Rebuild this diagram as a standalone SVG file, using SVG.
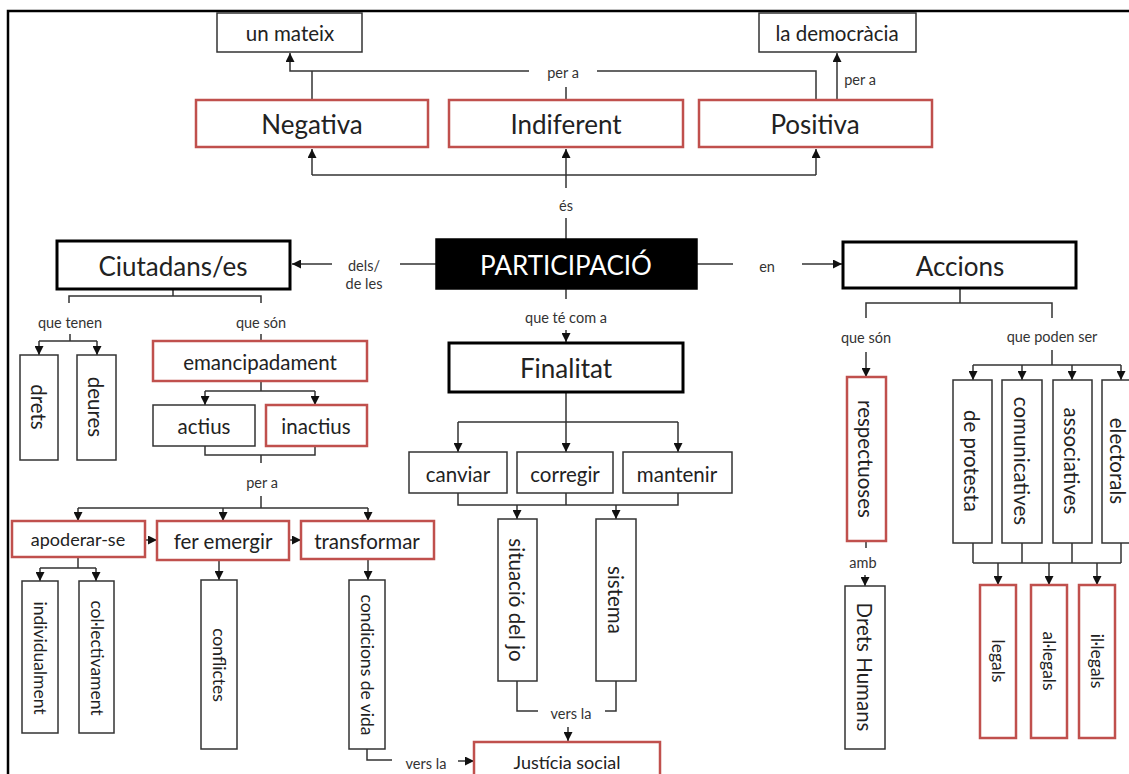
<svg xmlns="http://www.w3.org/2000/svg" width="1129" height="774" viewBox="0 0 1129 774">
<defs>
<style>
.b{fill:#fff;stroke:#333;stroke-width:1.5}
.r{fill:#fff;stroke:#c0504d;stroke-width:2.5}
.k{fill:#fff;stroke:#000;stroke-width:3}
.c{fill:none;stroke:#333;stroke-width:1.5}
text{font-family:Lato,"Open Sans",sans-serif;fill:#222;text-anchor:middle;dominant-baseline:central}
.t1{font-size:26px}
.t2{font-size:20.5px}
.t3{font-size:18px}
.t4{font-size:17.5px}
.lb{font-size:14.5px;fill:#333}
</style>
<marker id="a" viewBox="0 0 10 10" refX="10" refY="5" markerWidth="9" markerHeight="9" markerUnits="userSpaceOnUse" orient="auto"><path d="M0,0L10,5L0,10z" fill="#111"/></marker>
</defs>
<rect x="0" y="0" width="1129" height="774" fill="#fff"/>
<path d="M8,774V11H1129" fill="none" stroke="#000" stroke-width="2.5"/>

<g id="connectors">
<path class="c" d="M529,71H290V53" marker-end="url(#a)"/>
<path class="c" d="M312,100V71"/>
<path class="c" d="M597,71H816V100"/>
<path class="c" d="M566,87V100"/>
<path class="c" d="M837,100V53" marker-end="url(#a)"/>
<path class="c" d="M312,175H816"/>
<path class="c" d="M312,175V149" marker-end="url(#a)"/>
<path class="c" d="M816,175V149" marker-end="url(#a)"/>
<path class="c" d="M566,188V149" marker-end="url(#a)"/>
<path class="c" d="M566,218V239"/>
<path class="c" d="M436,264H400"/>
<path class="c" d="M332,264H292" marker-end="url(#a)"/>
<path class="c" d="M697,264H733"/>
<path class="c" d="M802,264H842" marker-end="url(#a)"/>
<path class="c" d="M566,289V299"/>
<path class="c" d="M566,330V342" marker-end="url(#a)"/>
<path class="c" d="M566,392V422M458,422H678"/>
<path class="c" d="M458,422V452" marker-end="url(#a)"/>
<path class="c" d="M566,422V452" marker-end="url(#a)"/>
<path class="c" d="M678,422V452" marker-end="url(#a)"/>
<path class="c" d="M458,493V505H678V493M566,493V505"/>
<path class="c" d="M517,505V519" marker-end="url(#a)"/>
<path class="c" d="M616,505V519" marker-end="url(#a)"/>
<path class="c" d="M517,681V711H538M605,711H616V681"/>
<path class="c" d="M568,727V741" marker-end="url(#a)"/>
<path class="c" d="M173,289V296M69,303V296H261V303"/>
<path class="c" d="M70,334V341M39,341H97"/>
<path class="c" d="M39,341V355" marker-end="url(#a)"/>
<path class="c" d="M97,341V355" marker-end="url(#a)"/>
<path class="c" d="M261,334V341"/>
<path class="c" d="M261,381V391M205,391H315"/>
<path class="c" d="M205,391V405" marker-end="url(#a)"/>
<path class="c" d="M315,391V405" marker-end="url(#a)"/>
<path class="c" d="M205,446V455H315V446M261,455V463"/>
<path class="c" d="M261,496V508M78,508H368"/>
<path class="c" d="M78,508V521" marker-end="url(#a)"/>
<path class="c" d="M223,508V521" marker-end="url(#a)"/>
<path class="c" d="M368,508V521" marker-end="url(#a)"/>
<path class="c" d="M145,540H157" marker-end="url(#a)"/>
<path class="c" d="M289,540H301" marker-end="url(#a)"/>
<path class="c" d="M78,557V568M40,568H96"/>
<path class="c" d="M40,568V581" marker-end="url(#a)"/>
<path class="c" d="M96,568V581" marker-end="url(#a)"/>
<path class="c" d="M219,560V580" marker-end="url(#a)"/>
<path class="c" d="M368,559V580" marker-end="url(#a)"/>
<path class="c" d="M367,749V760H392"/>
<path class="c" d="M458,761H474" marker-end="url(#a)"/>
<path class="c" d="M960,288V303M866,318V303H1052V318"/>
<path class="c" d="M866,352V377" marker-end="url(#a)"/>
<path class="c" d="M1052,350V365M973,365H1121"/>
<path class="c" d="M973,365V380" marker-end="url(#a)"/>
<path class="c" d="M1022,365V380" marker-end="url(#a)"/>
<path class="c" d="M1072,365V380" marker-end="url(#a)"/>
<path class="c" d="M1121,365V380" marker-end="url(#a)"/>
<path class="c" d="M866,541V548"/>
<path class="c" d="M865,575V586" marker-end="url(#a)"/>
<path class="c" d="M973,543V563M1022,543V563M1072,543V563M1121,543V563M973,563H1121"/>
<path class="c" d="M998,563V585" marker-end="url(#a)"/>
<path class="c" d="M1049,563V585" marker-end="url(#a)"/>
<path class="c" d="M1097,563V585" marker-end="url(#a)"/>
</g>

<g id="labels">
<text class="lb" x="563" y="72">per a</text>
<text class="lb" x="860" y="79">per a</text>
<text class="lb" x="566" y="205">és</text>
<text class="lb" x="364" y="265">dels/</text>
<text class="lb" x="364" y="283">de les</text>
<text class="lb" x="767" y="266">en</text>
<text class="lb" x="566" y="317">que té com a</text>
<text class="lb" x="70" y="322">que tenen</text>
<text class="lb" x="261" y="322">que són</text>
<text class="lb" x="262" y="482">per a</text>
<text class="lb" x="426" y="763">vers la</text>
<text class="lb" x="571" y="713">vers la</text>
<text class="lb" x="866" y="337">que són</text>
<text class="lb" x="1052" y="336">que poden ser</text>
<text class="lb" x="863" y="562">amb</text>
</g>

<g id="un-mateix"><rect class="b" x="217" y="13" width="145" height="39"/><text class="t2" x="290" y="33">un mateix</text></g>
<g id="la-democracia"><rect class="b" x="759" y="13" width="157" height="39"/><text class="t2" x="837" y="33">la democràcia</text></g>
<g id="negativa"><rect class="r" x="196" y="100" width="232" height="47"/><text class="t1" x="312" y="124">Negativa</text></g>
<g id="indiferent"><rect class="r" x="449" y="100" width="234" height="47"/><text class="t1" x="566" y="124">Indiferent</text></g>
<g id="positiva"><rect class="r" x="699" y="100" width="233" height="47"/><text class="t1" x="815" y="124">Positiva</text></g>
<g id="participacio"><rect x="436" y="239" width="261" height="50" fill="#000" stroke="#000" stroke-width="1.5"/><text class="t1" x="566" y="265" style="fill:#fff">PARTICIPACIÓ</text></g>
<g id="ciutadans"><rect class="k" x="57" y="241" width="233" height="48"/><text class="t1" x="173" y="266">Ciutadans/es</text></g>
<g id="accions"><rect class="k" x="843" y="242" width="233" height="46"/><text class="t1" x="960" y="266">Accions</text></g>
<g id="finalitat"><rect class="k" x="449" y="343" width="234" height="49"/><text class="t1" x="566" y="368">Finalitat</text></g>

<g id="drets"><rect class="b" x="20" y="355" width="38" height="105"/><text class="t2" transform="translate(39,407) rotate(90)">drets</text></g>
<g id="deures"><rect class="b" x="77" y="355" width="39" height="105"/><text class="t2" transform="translate(96,407) rotate(90)">deures</text></g>
<g id="emancipadament"><rect class="r" x="153" y="341" width="214" height="40"/><text class="t2" x="260" y="362">emancipadament</text></g>
<g id="actius"><rect class="b" x="153" y="405" width="102" height="41"/><text class="t2" x="204" y="426">actius</text></g>
<g id="inactius"><rect class="r" x="266" y="405" width="101" height="41"/><text class="t2" x="316" y="426">inactius</text></g>
<g id="apoderar-se"><rect class="r" x="12" y="521" width="133" height="36"/><text class="t3" x="78" y="539">apoderar-se</text></g>
<g id="fer-emergir"><rect class="r" x="157" y="521" width="132" height="39"/><text class="t2" x="223" y="541">fer emergir</text></g>
<g id="transformar"><rect class="r" x="301" y="521" width="133" height="38"/><text class="t2" x="367" y="541">transformar</text></g>
<g id="individualment"><rect class="b" x="22" y="581" width="36" height="152"/><text class="t4" transform="translate(40,658) rotate(90)">individualment</text></g>
<g id="collectivament"><rect class="b" x="79" y="581" width="35" height="152"/><text class="t4" transform="translate(97,658) rotate(90)">col·lectivament</text></g>
<g id="conflictes"><rect class="b" x="201" y="580" width="36" height="169"/><text class="t4" transform="translate(219,665) rotate(90)">conflictes</text></g>
<g id="condicions"><rect class="b" x="349" y="580" width="36" height="169"/><text class="t4" transform="translate(367,665) rotate(90)">condicions de vida</text></g>

<g id="canviar"><rect class="b" x="409" y="452" width="98" height="41"/><text class="t2" x="458" y="474">canviar</text></g>
<g id="corregir"><rect class="b" x="517" y="452" width="96" height="41"/><text class="t2" x="565" y="474">corregir</text></g>
<g id="mantenir"><rect class="b" x="623" y="452" width="109" height="41"/><text class="t2" x="677" y="474">mantenir</text></g>
<g id="situacio"><rect class="b" x="498" y="519" width="39" height="162"/><text class="t2" transform="translate(517,600) rotate(90)">situació del jo</text></g>
<g id="sistema"><rect class="b" x="596" y="519" width="40" height="162"/><text class="t2" transform="translate(616,600) rotate(90)">sistema</text></g>
<g id="justicia"><rect class="r" x="474" y="742" width="186" height="48"/><text class="t3" x="567" y="762">Justícia social</text></g>

<g id="respectuoses"><rect class="r" x="847" y="377" width="39" height="164"/><text class="t2" transform="translate(866,459) rotate(90)">respectuoses</text></g>
<g id="drets-humans"><rect class="b" x="845" y="586" width="40" height="163"/><text class="t2" transform="translate(865,667) rotate(90)">Drets Humans</text></g>
<g id="de-protesta"><rect class="b" x="953" y="380" width="39" height="163"/><text class="t2" transform="translate(972,461) rotate(90)">de protesta</text></g>
<g id="comunicatives"><rect class="b" x="1002" y="380" width="40" height="163"/><text class="t2" transform="translate(1022,461) rotate(90)">comunicatives</text></g>
<g id="associatives"><rect class="b" x="1053" y="380" width="39" height="163"/><text class="t2" transform="translate(1072,461) rotate(90)">associatives</text></g>
<g id="electorals"><rect class="b" x="1102" y="380" width="39" height="163"/><text class="t2" transform="translate(1118,461) rotate(90)">electorals</text></g>
<g id="legals"><rect class="r" x="980" y="585" width="36" height="153"/><text class="t4" transform="translate(998,661) rotate(90)">legals</text></g>
<g id="allegals"><rect class="r" x="1031" y="585" width="36" height="153"/><text class="t4" transform="translate(1049,661) rotate(90)">al·legals</text></g>
<g id="illegals"><rect class="r" x="1079" y="585" width="36" height="153"/><text class="t4" transform="translate(1097,661) rotate(90)">il·legals</text></g>
</svg>
